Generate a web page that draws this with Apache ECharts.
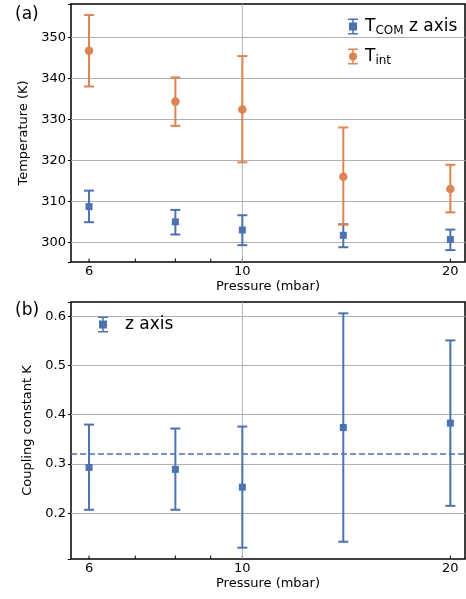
<!DOCTYPE html>
<html><head><meta charset="utf-8">
<script src="https://cdn.jsdelivr.net/npm/echarts@6/dist/echarts.min.js"></script>
<style>html,body{margin:0;padding:0;background:#fff}#c{width:466px;height:599px}</style>
</head><body><div id="c"></div>
<script>
// ---- data ----
const pressures = [6, 8, 10, 14, 20];
const tComZ = [308.7, 305.0, 303.0, 301.7, 300.7];
const tComZLow = [304.9, 301.9, 299.3, 298.8, 298.1];
const tComZHigh = [312.6, 307.9, 306.6, 304.4, 303.1];
const tInt = [346.7, 334.3, 332.4, 316.0, 313.0];
const tIntLow = [338.0, 328.4, 319.5, 304.3, 307.3];
const tIntHigh = [355.4, 340.2, 345.4, 328.0, 318.9];
const kZ = [0.293, 0.289, 0.253, 0.374, 0.383];
const kZLow = [0.207, 0.207, 0.130, 0.142, 0.215];
const kZHigh = [0.380, 0.372, 0.376, 0.606, 0.551];
const kMean = 0.319;
const xTicks = [6, 7, 8, 9, 10, 20];
const xTickLabels = [6, 10, 20];
const xGridLines = [10];

const BLUE = '#4C72B0', ORANGE = '#DD8452', FONT = 'DejaVu Sans';
const iconSq = 'path://M1,0H11V1.5H6.75V4H10V12H6.75V14.5H11V16H1V14.5H5.25V12H2V4H5.25V1.5H1Z';
const iconCi = 'path://M1,0H11V1.5H6.75V14.5H11V16H1V14.5H5.25V1.5H1Z M6,4 A4,4 0 1 1 5.99,4 Z';

function errSeries(name, idx, lo, hi, color) {
  return {
    name: name, type: 'custom', xAxisIndex: idx, yAxisIndex: idx, z: 3,
    itemStyle: { color: color },
    data: pressures.map((p, i) => [p, lo[i], hi[i]]),
    encode: { x: 0, y: [1, 2] },
    renderItem: function (params, api) {
      const x = api.value(0);
      const a = api.coord([x, api.value(1)]);
      const b = api.coord([x, api.value(2)]);
      const hw = 5, st = { stroke: color, lineWidth: 2 };
      return { type: 'group', children: [
        { type: 'line', shape: { x1: a[0], y1: a[1], x2: b[0], y2: b[1] }, style: st },
        { type: 'line', shape: { x1: a[0] - hw, y1: a[1], x2: a[0] + hw, y2: a[1] }, style: st },
        { type: 'line', shape: { x1: b[0] - hw, y1: b[1], x2: b[0] + hw, y2: b[1] }, style: st }
      ]};
    }
  };
}
function xAxisSeries(idx) {
  return {
    type: 'custom', xAxisIndex: idx, yAxisIndex: idx, z: 1, silent: true,
    data: xTicks.map(v => [v]),
    encode: { x: 0 },
    renderItem: function (params, api) {
      const v = api.value(0);
      const cs = params.coordSys;
      const px = api.coord([v, 0])[0];
      const bottom = cs.y + cs.height;
      const ch = [{ type: 'line', shape: { x1: px, y1: bottom, x2: px, y2: bottom - 3.5 }, style: { stroke: '#000', lineWidth: 1 } }];
      if (xGridLines.indexOf(v) >= 0) ch.push({ type: 'line', shape: { x1: px, y1: cs.y, x2: px, y2: bottom }, style: { stroke: '#b0b0b0', lineWidth: 1 } });
      if (xTickLabels.indexOf(v) >= 0) ch.push({ type: 'text', style: { x: px, y: bottom + 10, text: String(v), fill: '#000', font: '13px "DejaVu Sans"', align: 'center', verticalAlign: 'middle' } });
      return { type: 'group', children: ch };
    }
  };
}
function yAx(idx, min, max, name, gap, step, dec) {
  return {
    type: 'value', gridIndex: idx, min: min, max: max, splitNumber: 6,
    name: name, nameLocation: 'middle', nameGap: gap,
    nameTextStyle: { fontFamily: FONT, fontSize: 13, color: '#000' },
    axisLine: { show: false },
    axisTick: { show: true, inside: false, length: 3, lineStyle: { color: '#000' } },
    axisLabel: { fontFamily: FONT, fontSize: 13, color: '#000', margin: 5,
      formatter: v => (Math.abs(Math.round(v / step) * step - v) < 1e-6 ? v.toFixed(dec) : '') },
    splitLine: { show: true, showMinLine: false, showMaxLine: false, lineStyle: { color: '#b0b0b0', width: 1 } }
  };
}
function xAx(idx) {
  return {
    type: 'log', logBase: 10, gridIndex: idx, min: 5.65, max: 21,
    name: 'Pressure (mbar)', nameLocation: 'middle', nameGap: 18,
    nameTextStyle: { fontFamily: FONT, fontSize: 13, color: '#000' },
    axisLine: { show: false }, axisTick: { show: false }, axisLabel: { show: false }, splitLine: { show: false }
  };
}
const legendText = { fontFamily: FONT, fontSize: 17, color: '#000' };
const option = {
  animation: false,
  backgroundColor: '#fff',
  grid: [
    { left: 71, top: 4, width: 394, height: 258, show: true, borderColor: '#000', borderWidth: 1.5, backgroundColor: 'transparent' },
    { left: 71, top: 302, width: 394, height: 257, show: true, borderColor: '#000', borderWidth: 1.5, backgroundColor: 'transparent' }
  ],
  xAxis: [xAx(0), xAx(1)],
  yAxis: [yAx(0, 295.2, 358.1, 'Temperature (K)', 38, 10, 0), yAx(1, 0.107, 0.629, 'Coupling constant K', 35, 0.1, 1)],
  legend: [
    { orient: 'vertical', left: 343, top: 11, itemWidth: 10, itemHeight: 16, itemGap: 9,
      data: [{ name: 'tcom', icon: iconSq, itemStyle: { color: BLUE } }, { name: 'tint', icon: iconCi, itemStyle: { color: ORANGE } }],
      formatter: n => n === 'tcom' ? '{t|T}{s|COM}{t| z axis}' : '{t|T}{s|int}',
      textStyle: { padding: [0, 0, 0, 2], rich: {
        t: { fontFamily: FONT, fontSize: 17, color: '#000', lineHeight: 22 },
        s: { fontFamily: FONT, fontSize: 12, color: '#000', lineHeight: 22, padding: [9, 0, 0, 0] } } } },
    { orient: 'vertical', left: 93, top: 311, itemWidth: 10, itemHeight: 16,
      data: [{ name: 'kz', icon: iconSq, itemStyle: { color: BLUE } }],
      formatter: () => 'z axis',
      textStyle: Object.assign({ padding: [0, 0, 0, 12] }, legendText) }
  ],
  graphic: [
    { type: 'text', left: 15, top: 6, style: { text: '(a)', font: '17px "DejaVu Sans"', fill: '#000' } },
    { type: 'text', left: 15, top: 302, style: { text: '(b)', font: '17px "DejaVu Sans"', fill: '#000' } }
  ],
  series: [
    xAxisSeries(0), xAxisSeries(1),
    errSeries('tcom', 0, tComZLow, tComZHigh, BLUE),
    { name: 'tcom', type: 'scatter', xAxisIndex: 0, yAxisIndex: 0, z: 4, symbol: 'rect', symbolSize: 7, itemStyle: { color: BLUE, opacity: 1 },
      data: pressures.map((p, i) => [p, tComZ[i]]) },
    errSeries('tint', 0, tIntLow, tIntHigh, ORANGE),
    { name: 'tint', type: 'scatter', xAxisIndex: 0, yAxisIndex: 0, z: 4, symbol: 'circle', symbolSize: 8.5, itemStyle: { color: ORANGE, opacity: 1 },
      data: pressures.map((p, i) => [p, tInt[i]]) },
    errSeries('kz', 1, kZLow, kZHigh, BLUE),
    { name: 'kz', type: 'scatter', xAxisIndex: 1, yAxisIndex: 1, z: 4, symbol: 'rect', symbolSize: 7, itemStyle: { color: BLUE, opacity: 1 },
      data: pressures.map((p, i) => [p, kZ[i]]),
      markLine: { silent: true, symbol: 'none', label: { show: false },
        lineStyle: { color: BLUE, type: [6, 3], width: 1.5 }, data: [{ yAxis: kMean }] } }
  ]
};
const chart = echarts.init(document.getElementById('c'), null, { renderer: 'canvas' });
chart.setOption(option);
</script></body></html>
